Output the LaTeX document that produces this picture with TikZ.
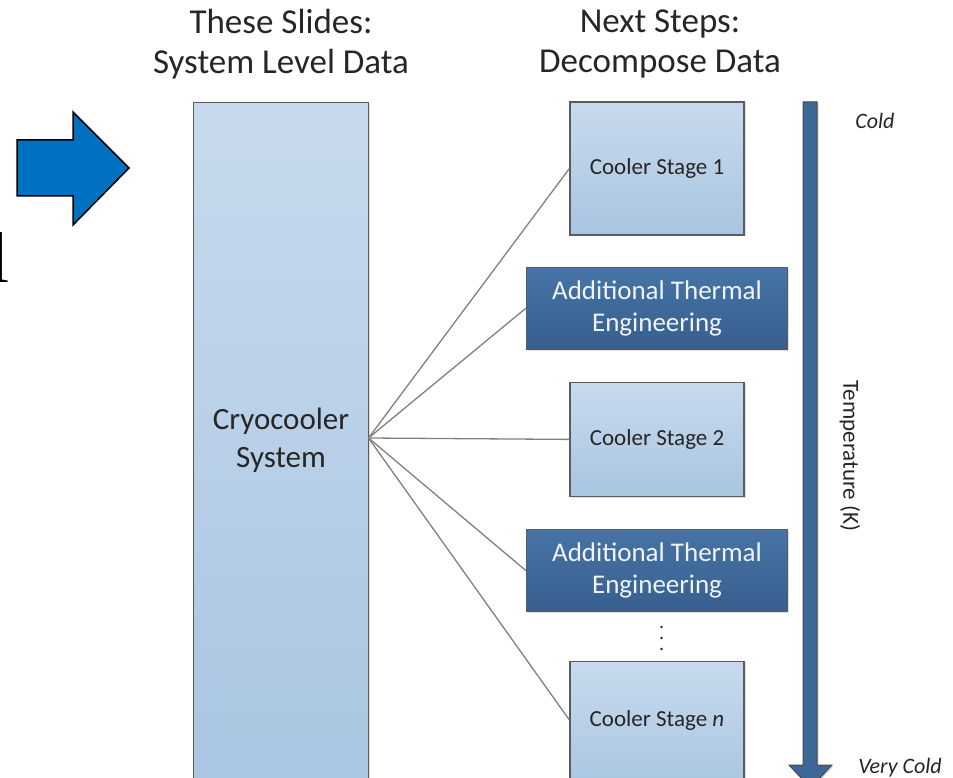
\documentclass[tikz,border=0pt]{standalone}
\usepackage{fontspec}
\setmainfont{Carlito}
\newfontfamily\timesfont{Liberation Serif}
\usetikzlibrary{positioning,shadows}

\definecolor{stagetop}{HTML}{C7DAED}
\definecolor{stagebot}{HTML}{A9C5E1}
\definecolor{thermtop}{HTML}{4674A6}
\definecolor{thermbot}{HTML}{365F8E}
\definecolor{edgegray}{HTML}{5B5B5B}
\definecolor{fangray}{HTML}{808080}
\definecolor{tempblue}{HTML}{3B6897}
\definecolor{pptblue}{HTML}{0070C0}
\definecolor{ink}{HTML}{262626}

\begin{document}
\begin{tikzpicture}[x=1pt, y=-1pt, node distance=33pt,
  softshadow/.style={drop shadow={shadow xshift=1.5pt, shadow yshift=-1.5pt, opacity=0.25, fill=black!50}},
  stage/.style={draw=edgegray, line width=1.2pt, top color=stagetop, bottom color=stagebot,
    minimum width=174pt, inner sep=0pt, text=ink, font=\fontsize{23}{28}\selectfont, softshadow},
  thermal/.style={draw=edgegray, line width=1.2pt, top color=thermtop, bottom color=thermbot,
    minimum width=261pt, minimum height=82pt, inner sep=0pt, align=center,
    text=white!92!thermtop, font=\fontsize{27}{32}\selectfont, softshadow},
  heading/.style={align=center, text=ink, font=\fontsize{35}{40}\selectfont},
  side/.style={text=ink, font=\fontsize{22}{26}\selectfont\itshape},
  fan/.style={draw=fangray, line width=1.3pt}]

  \useasboundingbox (0,0) rectangle (953,778);

  % column headings
  \node (lefthead) [heading] at (281,44) {These Slides:\\System Level Data};
  \node (righthead) [heading] at (660,44) {Next Steps:\\Decompose Data};

  % big arrow and the cut letter on the left
  \draw[fill=pptblue, draw=black, line width=1.5pt, line join=miter]
    (17,140) -- (73,140) -- (73,112) -- (129,168) -- (73,225) -- (73,196) -- (17,196) -- cycle;
  \node (ell) [anchor=base west, inner sep=0pt, font=\timesfont\fontsize{72}{72}\selectfont] at (-10.5,282) {l};

  % system block
  \node (sys) [stage, minimum width=175pt, minimum height=690pt, anchor=north west] at (193,102) {};
  \node (syslbl) [align=center, text=ink, font=\fontsize{31}{38}\selectfont] at (281,440) {Cryocooler\\System};
  \coordinate (hub) at (368.5,438);

  % decomposed stages
  \node (cs1) [stage, minimum height=133pt] at (657,168.5) {Cooler Stage 1};
  \node (ate1) [thermal, below=31pt of cs1] {Additional Thermal\\Engineering};
  \node (cs2) [stage, minimum height=114pt, below=32pt of ate1] {Cooler Stage 2};
  \node (ate2) [thermal, below=32pt of cs2] {Additional Thermal\\Engineering};
  \node (csn) [stage, minimum height=130pt, below=49pt of ate2] {};
  \node (csnlbl) [text=ink, font=\fontsize{23}{28}\selectfont] at (657,720) {Cooler Stage \textit{n}};

  % the dots between the last two blocks
  \foreach \dy in {627,638,649}
    \fill[ink] (661.5,\dy) circle (1.4pt);

  % fan of links
  \draw[fan] (hub) -- (cs1.west);
  \draw[fan] (hub) -- (ate1.west);
  \draw[fan] (hub) -- (cs2.west);
  \draw[fan] (hub) -- (ate2.west);
  \draw[fan] (hub) -- (csn.west |- csnlbl);

  % temperature scale
  \draw[fill=tempblue, draw=edgegray!80!black, line width=1pt, softshadow]
    (803,102) -- (817,102) -- (817,765) -- (832,765) -- (810.5,788) -- (789,765) -- (803,765) -- cycle;
  \node (templbl) [rotate=-90, text=ink, font=\fontsize{23}{28}\selectfont] at (850,456) {Temperature (K)};
  \node (cold) [side] at (875,121) {Cold};
  \node (vcold) [side] at (900,768) {Very Cold};
\end{tikzpicture}
\end{document}
